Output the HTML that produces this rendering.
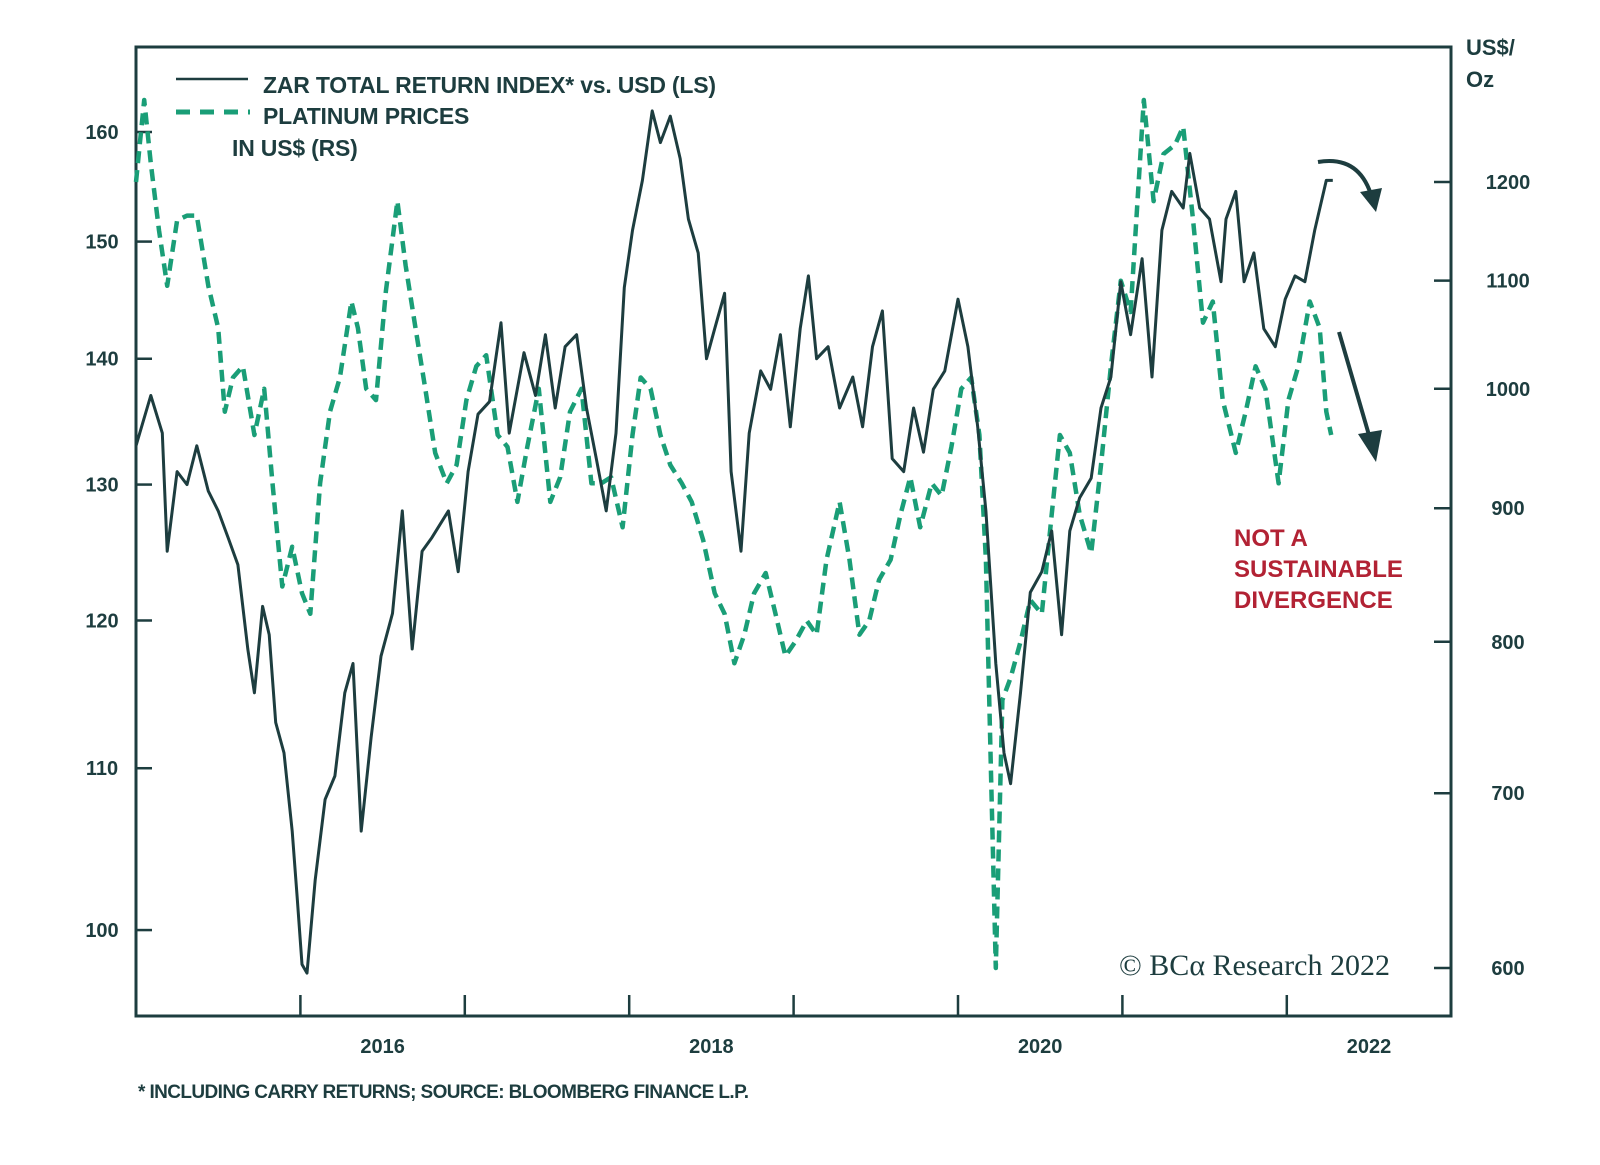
<!DOCTYPE html>
<html><head><meta charset="utf-8"><style>
body{margin:0;background:#fff;}
svg{display:block;font-family:"Liberation Sans",sans-serif;}
</style></head><body>
<svg id="chart" width="1600" height="1165" viewBox="0 0 1600 1165">
<rect x="136" y="47" width="1315" height="969" fill="none" stroke="#1d3d3f" stroke-width="3"/>
<g id="axes"></g>
<g id="series"></g>
<g>
<line x1="176" y1="79" x2="248" y2="79" stroke="#1d3d3f" stroke-width="2.5"/>
<text x="263" y="93" font-size="23" font-weight="bold" fill="#1d3d3f" letter-spacing="-0.2">ZAR TOTAL RETURN INDEX* vs. USD (LS)</text>
<line x1="176" y1="112" x2="250" y2="112" stroke="#1a9e77" stroke-width="5" stroke-dasharray="14,10"/>
<text x="263" y="124" font-size="23" font-weight="bold" fill="#1d3d3f" letter-spacing="-0.2">PLATINUM PRICES</text>
<text x="232" y="156" font-size="23" font-weight="bold" fill="#1d3d3f" letter-spacing="-0.2">IN US$ (RS)</text>
</g>
<text x="1466" y="55" font-size="22" font-weight="bold" fill="#1d3d3f">US$/</text>
<text x="1466" y="87" font-size="22" font-weight="bold" fill="#1d3d3f">Oz</text>
<g fill="#b22234" font-size="24" font-weight="bold">
<text x="1234" y="546">NOT A</text><text x="1234" y="577">SUSTAINABLE</text><text x="1234" y="608">DIVERGENCE</text></g>
<text x="1119" y="975" font-size="30" font-family="'Liberation Serif',serif" fill="#1d3d3f">© BCα Research 2022</text>
<text x="138" y="1098" font-size="19" font-weight="bold" fill="#1d3d3f" letter-spacing="-0.6">* INCLUDING CARRY RETURNS; SOURCE: BLOOMBERG FINANCE L.P.</text>
<path d="M1318,162 Q1360,155 1372,198" fill="none" stroke="#1d3d3f" stroke-width="4"/>
<path d="M1360,192 L1376,212 L1382,188 z" fill="#1d3d3f"/>
<line x1="1339" y1="332" x2="1371" y2="442" stroke="#1d3d3f" stroke-width="4"/>
<path d="M1358,434 L1376,462 L1382,430 z" fill="#1d3d3f"/>
</svg>
<script>
const zarYears=[0,.09,.16,.19,.25,.31,.37,.44,.50,.56,.62,.68,.72,.77,.81,.85,.90,.95,.98,1.01,1.04,1.09,1.15,1.21,1.27,1.32,1.37,1.43,1.49,1.56,1.62,1.68,1.74,1.80,1.90,1.96,2.02,2.08,2.15,2.22,2.27,2.36,2.43,2.49,2.55,2.61,2.68,2.74,2.80,2.86,2.92,2.97,3.02,3.08,3.14,3.19,3.25,3.31,3.36,3.42,3.47,3.52,3.58,3.62,3.68,3.73,3.80,3.86,3.92,3.98,4.04,4.09,4.14,4.21,4.28,4.36,4.42,4.48,4.54,4.60,4.67,4.73,4.79,4.85,4.92,5.00,5.06,5.12,5.17,5.23,5.28,5.32,5.38,5.44,5.51,5.57,5.63,5.68,5.74,5.81,5.87,5.93,5.99,6.05,6.12,6.18,6.24,6.30,6.37,6.41,6.47,6.53,6.60,6.63,6.69,6.74,6.80,6.86,6.93,6.99,7.05,7.11,7.17,7.24,7.28];
const zarValues=[133,137,134,125,131,130,133,129.5,128,126,124,118,115,121,119,113,111,106,102,98,97.5,103,108,109.5,115,117,106,112,117.5,120.5,128,118,125,126,128,123.5,131,135.5,136.5,143,134,140.5,137,142,136,141,142,136,132,128,134,146,151,155.5,162,159,161.5,157.5,152,149,140,142.5,145.5,131,125,134,139,137.5,142,134.5,142.5,147,140,141,136,138.5,134.5,141,144,132,131,136,132.5,137.5,139,145,141,134.5,128,117,111,109,115,122,123.5,126.5,119,126.5,129,130.5,136,138.5,146.5,142,148.5,138.5,151,154.5,153,158,153,152,146.5,152,154.5,146.5,149,142.5,141,145,147,146.5,151,155.5,155.5];
const ptYears=[0,.05,.09,.14,.19,.25,.31,.37,.44,.50,.54,.59,.65,.72,.78,.83,.89,.95,1.01,1.06,1.12,1.18,1.24,1.31,1.35,1.40,1.46,1.52,1.59,1.64,1.70,1.76,1.82,1.89,1.95,2.01,2.07,2.13,2.20,2.26,2.32,2.38,2.45,2.52,2.58,2.64,2.71,2.77,2.83,2.89,2.96,3.02,3.07,3.13,3.19,3.25,3.32,3.38,3.45,3.52,3.58,3.64,3.70,3.76,3.83,3.89,3.95,4.01,4.08,4.14,4.20,4.28,4.34,4.40,4.46,4.52,4.59,4.65,4.71,4.77,4.84,4.90,4.96,5.02,5.08,5.13,5.17,5.20,5.23,5.27,5.32,5.38,5.44,5.51,5.57,5.62,5.68,5.74,5.81,5.87,5.93,5.99,6.05,6.13,6.19,6.25,6.32,6.37,6.43,6.49,6.55,6.61,6.69,6.75,6.81,6.87,6.95,7.01,7.07,7.14,7.20,7.24,7.27];
const ptValues=[1200,1290,1220,1150,1095,1160,1165,1165,1095,1055,980,1010,1020,960,1000,920,840,870,835,820,920,980,1010,1080,1055,1000,990,1090,1180,1115,1055,1000,945,920,935,990,1020,1030,960,950,905,950,1000,905,925,980,1000,920,920,925,885,960,1010,1000,960,935,920,905,875,835,820,785,805,835,850,820,790,800,815,805,860,905,860,805,815,845,860,895,925,885,920,910,950,1000,1010,960,860,715,600,760,775,800,830,820,895,960,945,895,865,935,1020,1100,1070,1290,1180,1230,1240,1260,1160,1060,1080,990,945,980,1020,1000,920,990,1020,1080,1055,980,960];
const leftTicks=[100,110,120,130,140,150,160];
const rightTicks=[600,700,800,900,1000,1100,1200];
const yearTicks=[2016,2017,2018,2019,2020,2021,2022];
const yearLabels=[2016,2018,2020,2022];
const X0=2015;
const NS='http://www.w3.org/2000/svg';
function xs(y){return 136+(y-X0)*164.4;}
function yl(v){return 132+(Math.log(160)-Math.log(v))*1698;}
function yr(v){return 182+(Math.log(1200)-Math.log(v))*1134;}
const axes=document.getElementById('axes'),series=document.getElementById('series');
function mk(tag,attrs,parent){const e=document.createElementNS(NS,tag);for(const k in attrs)e.setAttribute(k,attrs[k]);parent.appendChild(e);return e;}
leftTicks.forEach(v=>{
 const t=mk('line',{x1:136,x2:152,y1:yl(v),y2:yl(v),stroke:'#1d3d3f','stroke-width':2.5},axes);
 
 
 const l=mk('text',{x:102,y:yl(v)+7,'text-anchor':'middle','font-size':20,'font-weight':'bold',fill:'#1d3d3f'},axes);
 l.textContent=v;
 
 
});
rightTicks.forEach(v=>{
 const t=mk('line',{x1:1434,x2:1451,y1:yr(v),y2:yr(v),stroke:'#1d3d3f','stroke-width':2.5},axes);
 
 
 const l=mk('text',{x:1508,y:yr(v)+7,'text-anchor':'middle','font-size':20,'font-weight':'bold',fill:'#1d3d3f'},axes);
 l.textContent=v;
 
 
});
yearTicks.forEach(y=>{
 const t=mk('line',{x1:xs(y),x2:xs(y),y1:995,y2:1016,stroke:'#1d3d3f','stroke-width':2.5},axes);
 
 
});
yearLabels.forEach(y=>{
 const l=mk('text',{x:xs(y+0.5),y:1053,'text-anchor':'middle','font-size':20,'font-weight':'bold',fill:'#1d3d3f'},axes);
 l.textContent=y;
 
 
});
const pp=ptYears.map((y,i)=>xs(X0+y).toFixed(1)+','+yr(ptValues[i]).toFixed(1)).join(' ');
const pl=mk('polyline',{points:pp,fill:'none',stroke:'#1a9e77','stroke-width':4.5,'stroke-dasharray':'12,7','stroke-linejoin':'round'},series);


const zp=zarYears.map((y,i)=>xs(X0+y).toFixed(1)+','+yl(zarValues[i]).toFixed(1)).join(' ');
const zl=mk('polyline',{points:zp,fill:'none',stroke:'#1d3d3f','stroke-width':3,'stroke-linejoin':'round'},series);


</script>
</body></html>
